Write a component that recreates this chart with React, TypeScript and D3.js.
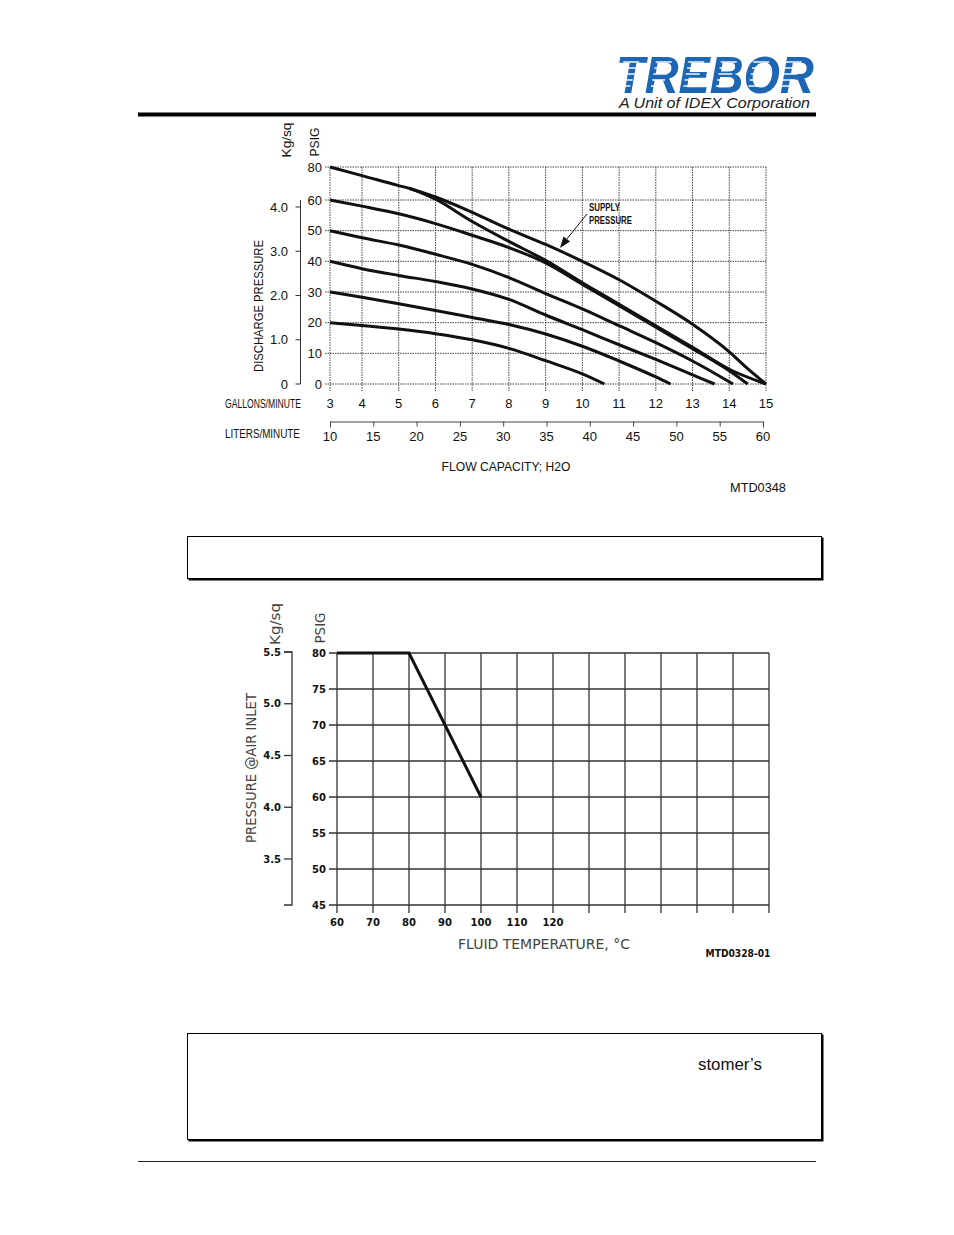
import React, { useEffect, useRef } from 'react';
import * as d3 from 'd3';

const W = 954;
const H = 1235;

// flow capacity chart (top)
const GPM_TICKS = [3, 4, 5, 6, 7, 8, 9, 10, 11, 12, 13, 14, 15];
const LPM_TICKS = [10, 15, 20, 25, 30, 35, 40, 45, 50, 55, 60];
const PSIG_TICKS = [0, 10, 20, 30, 40, 50, 60, 80];
const KG_TICKS = [0, 1, 2, 3, 4];

// [gpm, psig]
const CURVE_80 = [[3, 80], [4, 74.8], [5, 68.7], [5.3, 67], [6, 60.5], [7, 53], [8, 46.5], [9, 40.3], [10, 33], [11, 26], [12, 19], [13, 12], [14, 4.8], [15, 0]];
const CURVE_SUPPLY = [[5.3, 67], [6, 61.8], [7, 56], [8, 50.5], [9, 45.5], [10, 40], [11, 34], [12, 27], [13, 19.5], [14, 10.5], [14.5, 5], [15, 0]];
const CURVE_60 = [[3, 60], [4, 58], [5, 55.5], [6, 52.3], [7, 48.5], [8, 44.5], [9, 39.5], [10, 32.5], [11, 25.5], [12, 18.5], [13, 11.5], [14, 4.3], [14.5, 0]];
const CURVE_50 = [[3, 50], [4, 47.7], [5, 45.3], [6, 42.3], [7, 39], [8, 34.7], [9, 29.5], [10, 24.5], [11, 19], [12, 13.5], [13, 7.5], [14.1, 0]];
const CURVE_40 = [[3, 40], [4, 37.6], [5, 35.4], [6, 33.4], [7, 31], [8, 27.6], [9, 22.5], [10, 17.7], [11, 12.8], [12, 8], [13, 3], [13.6, 0]];
const CURVE_30 = [[3, 30], [4, 28.3], [5, 26.2], [6, 24], [7, 21.7], [8, 19.4], [9, 16.3], [10, 12.3], [11, 7.5], [12, 2.3], [12.4, 0]];
const CURVE_20 = [[3, 20], [4, 19.1], [5, 17.9], [6, 16.4], [7, 14.4], [8, 11.6], [9, 7.6], [10, 3.3], [10.6, 0]];

const FLOW_CURVES = [CURVE_80, CURVE_SUPPLY, CURVE_60, CURVE_50, CURVE_40, CURVE_30, CURVE_20];

// temperature chart (bottom)
const TEMP_GRID = [60, 70, 80, 90, 100, 110, 120, 130, 140, 150, 160, 170, 180];
const TEMP_LABELS = [60, 70, 80, 90, 100, 110, 120];
const INLET_PSIG_TICKS = [45, 50, 55, 60, 65, 70, 75, 80];
const INLET_KG_TICKS = [3.5, 4.0, 4.5, 5.0, 5.5];
const DERATE = [[60, 80], [80, 80], [100, 60]];

const NARROW = "'Liberation Sans Narrow', 'Liberation Sans', Arial, sans-serif";
const ARIAL = "'Liberation Sans', Arial, sans-serif";
const ROUND = "'DejaVu Sans', 'Open Sans', sans-serif";

export default function App() {
  const ref = useRef<SVGSVGElement>(null);

  useEffect(() => {
    const svg = d3.select(ref.current);
    svg.selectAll('*').remove();

    // text helper; `len` squeezes the text horizontally to a measured width
    const label = (x, y, str, o: any = {}) => {
      const t = svg.append('text')
        .attr('x', 0)
        .attr('y', 0)
        .attr('font-family', o.font || ARIAL)
        .attr('font-size', o.size || 13)
        .attr('font-weight', o.weight || 'normal')
        .attr('font-style', o.style || 'normal')
        .attr('fill', o.fill || '#111')
        .attr('text-anchor', o.anchor || 'start')
        .attr('dominant-baseline', o.baseline || 'central')
        .text(str);
      let k = 1;
      if (o.len) {
        const natural = (t.node() as SVGTextElement).getComputedTextLength();
        if (natural > 0) k = o.len / natural;
      }
      t.attr('transform', `translate(${x},${y})${o.rotate ? ' rotate(-90)' : ''} scale(${k},${o.sy || 1})`);
      return t;
    };

    // ---------- header ----------
    label(616, 93, 'TREBOR', {
      size: 46, weight: 'bold', style: 'italic', fill: '#1d66b3',
      baseline: 'alphabetic', len: 198, sy: 1.12,
    });

    // speed stripes through the left half of each letter
    const letterStarts = d3.range(6).map(i => 621 + i * 32.5);
    [62, 68, 74, 80, 86].forEach((sy, j) => {
      letterStarts.forEach(lx => {
        const shift = (93 - sy) * 0.2;
        svg.append('line')
          .attr('x1', lx + shift - 4)
          .attr('x2', lx + shift + 12 - j)
          .attr('y1', sy)
          .attr('y2', sy)
          .attr('stroke', '#fff')
          .attr('stroke-width', 1.4);
      });
    });

    label(810, 103, 'A Unit of IDEX Corporation', { anchor: 'end', size: 14, style: 'italic', len: 191, fill: '#222' });

    svg.append('rect').attr('x', 138).attr('y', 112.5).attr('width', 678).attr('height', 4).attr('fill', '#000');

    // ---------- flow capacity chart ----------
    const x = d3.scaleLinear().domain([3, 4, 15]).range([330, 362, 766]);
    const y = d3.scaleLinear().domain([0, 60, 80]).range([384, 200, 167]);
    const lpm = d3.scaleLinear().domain([10, 60]).range([330, 763]);
    const kg = d3.scaleLinear().domain([0, 4]).range([384, 207]);

    const grid = svg.append('g')
      .attr('stroke', '#444')
      .attr('stroke-width', 1)
      .attr('stroke-dasharray', '1.5,1');

    GPM_TICKS.forEach(g => {
      grid.append('line')
        .attr('x1', x(g)).attr('x2', x(g))
        .attr('y1', y(80)).attr('y2', y(0) + 7);
    });
    PSIG_TICKS.forEach(p => {
      grid.append('line')
        .attr('x1', x(3) - 5).attr('x2', x(15))
        .attr('y1', y(p)).attr('y2', y(p));
    });

    PSIG_TICKS.forEach(p => label(322, y(p), String(p), { anchor: 'end', size: 13 }));
    GPM_TICKS.forEach(g => label(x(g), 403, String(g), { anchor: 'middle', size: 13 }));

    // kg/sq axis
    const kgAxis = svg.append('g').attr('transform', 'translate(300.5,0)');
    kgAxis.append('line').attr('x1', 0).attr('x2', 0).attr('y1', y(60)).attr('y2', kg(0)).attr('stroke', '#333');
    KG_TICKS.forEach(k => {
      kgAxis.append('line').attr('x1', -5).attr('x2', 0).attr('y1', kg(k)).attr('y2', kg(k)).attr('stroke', '#333');
      label(288, kg(k), k === 0 ? '0' : k.toFixed(1), { anchor: 'end', size: 13 });
    });

    // liters/minute axis
    const lAxis = svg.append('g')
      .attr('transform', 'translate(0,421.5)')
      .call(d3.axisBottom(lpm).tickValues(LPM_TICKS).tickSize(5).tickSizeOuter(6).tickFormat(() => ''));
    lAxis.selectAll('path, line').attr('stroke', '#444');
    LPM_TICKS.forEach(l => label(lpm(l), 436, String(l), { anchor: 'middle', size: 13 }));

    label(225, 403, 'GALLONS/MINUTE', { font: NARROW, size: 13, len: 76 });
    label(225, 433, 'LITERS/MINUTE', { font: NARROW, size: 13, len: 75 });
    label(506, 467, 'FLOW CAPACITY; H2O', { font: NARROW, size: 13, anchor: 'middle', len: 129 });
    label(758, 487, 'MTD0348', { font: NARROW, size: 13, anchor: 'middle', len: 56 });
    label(287, 140, 'Kg/sq', { size: 13, anchor: 'middle', rotate: true, len: 35 });
    label(315, 142, 'PSIG', { size: 13, anchor: 'middle', rotate: true, len: 29 });
    label(259, 306, 'DISCHARGE PRESSURE', { font: NARROW, size: 13, anchor: 'middle', rotate: true, len: 132 });

    const flowLine = d3.line<number[]>()
      .x(d => x(d[0]))
      .y(d => y(d[1]))
      .curve(d3.curveMonotoneX);

    svg.append('g')
      .selectAll('path')
      .data(FLOW_CURVES)
      .join('path')
      .attr('d', d => flowLine(d))
      .attr('fill', 'none')
      .attr('stroke', '#111')
      .attr('stroke-width', 3)
      .attr('stroke-linejoin', 'round');

    // supply pressure callout
    label(589, 208, 'SUPPLY', { font: NARROW, size: 10, weight: 'bold', len: 31 });
    label(589, 221, 'PRESSURE', { font: NARROW, size: 10, weight: 'bold', len: 43 });
    svg.append('line')
      .attr('x1', 587).attr('y1', 214)
      .attr('x2', 566).attr('y2', 240)
      .attr('stroke', '#111').attr('stroke-width', 1);
    svg.append('path')
      .attr('d', 'M560,248 L563.5,236.5 L570,241.5 Z')
      .attr('fill', '#111');

    // ---------- info box 1 ----------
    svg.append('rect').attr('x', 188.5).attr('y', 537.5).attr('width', 635).attr('height', 43).attr('fill', '#000');
    svg.append('rect').attr('x', 187.5).attr('y', 536.5).attr('width', 634).attr('height', 42).attr('fill', '#fff').attr('stroke', '#000');

    // ---------- temperature chart ----------
    const tx = d3.scaleLinear().domain([60, 180]).range([337, 769]);
    const ty = d3.scaleLinear().domain([45, 80]).range([905, 653]);
    const tkg = d3.scaleLinear().domain([3.5, 5.5]).range([859, 652]);

    const tgrid = svg.append('g').attr('stroke', '#333').attr('stroke-width', 1.3);
    TEMP_GRID.forEach(t => {
      tgrid.append('line').attr('x1', tx(t)).attr('x2', tx(t)).attr('y1', ty(80)).attr('y2', ty(45) + 8);
    });
    INLET_PSIG_TICKS.forEach(p => {
      tgrid.append('line').attr('x1', tx(60) - 8).attr('x2', tx(180)).attr('y1', ty(p)).attr('y2', ty(p));
    });

    INLET_PSIG_TICKS.forEach(p => label(326, ty(p), String(p), { font: ROUND, size: 10, weight: 'bold', anchor: 'end' }));
    TEMP_LABELS.forEach(t => label(tx(t), 922, String(t), { font: ROUND, size: 10, weight: 'bold', anchor: 'middle' }));

    const kg2 = svg.append('g').attr('stroke', '#333').attr('stroke-width', 1.3);
    kg2.append('path').attr('d', `M284,${ty(45)}H292V${tkg(5.5)}H284`).attr('fill', 'none');
    INLET_KG_TICKS.forEach(k => {
      kg2.append('line').attr('x1', 284).attr('x2', 292).attr('y1', tkg(k)).attr('y2', tkg(k));
      label(281, tkg(k), k.toFixed(1), { font: ROUND, size: 10, weight: 'bold', anchor: 'end' });
    });

    label(275, 624, 'Kg/sq', { font: ROUND, size: 14, anchor: 'middle', rotate: true, len: 42, fill: '#444' });
    label(320, 628, 'PSIG', { font: ROUND, size: 14, anchor: 'middle', rotate: true, len: 31, fill: '#444' });
    label(251, 768, 'PRESSURE @AIR INLET', { font: ROUND, size: 14, anchor: 'middle', rotate: true, len: 150, fill: '#444' });
    label(544, 944, 'FLUID TEMPERATURE,  °C', { font: ROUND, size: 14, anchor: 'middle', len: 172, fill: '#444' });
    label(738, 953, 'MTD0328-01', { font: ROUND, size: 10, weight: 'bold', anchor: 'middle', len: 65 });

    const derateLine = d3.line<number[]>().x(d => tx(d[0])).y(d => ty(d[1]));
    svg.append('path')
      .attr('d', derateLine(DERATE))
      .attr('fill', 'none')
      .attr('stroke', '#111')
      .attr('stroke-width', 3);

    // ---------- info box 2 ----------
    svg.append('rect').attr('x', 188.5).attr('y', 1034.5).attr('width', 635).attr('height', 107).attr('fill', '#000');
    svg.append('rect').attr('x', 187.5).attr('y', 1033.5).attr('width', 634).attr('height', 106).attr('fill', '#fff').attr('stroke', '#000');
    label(698, 1064, 'stomer\u2019s', { size: 16, len: 64 });

    // footer rule
    svg.append('line').attr('x1', 138).attr('x2', 816).attr('y1', 1161.5).attr('y2', 1161.5).attr('stroke', '#222');
  }, []);

  return (
    <svg
      ref={ref}
      width={W}
      height={H}
      viewBox={`0 0 ${W} ${H}`}
      style={{ position: 'absolute', left: 0, top: 0, background: '#fff' }}
    />
  );
}
